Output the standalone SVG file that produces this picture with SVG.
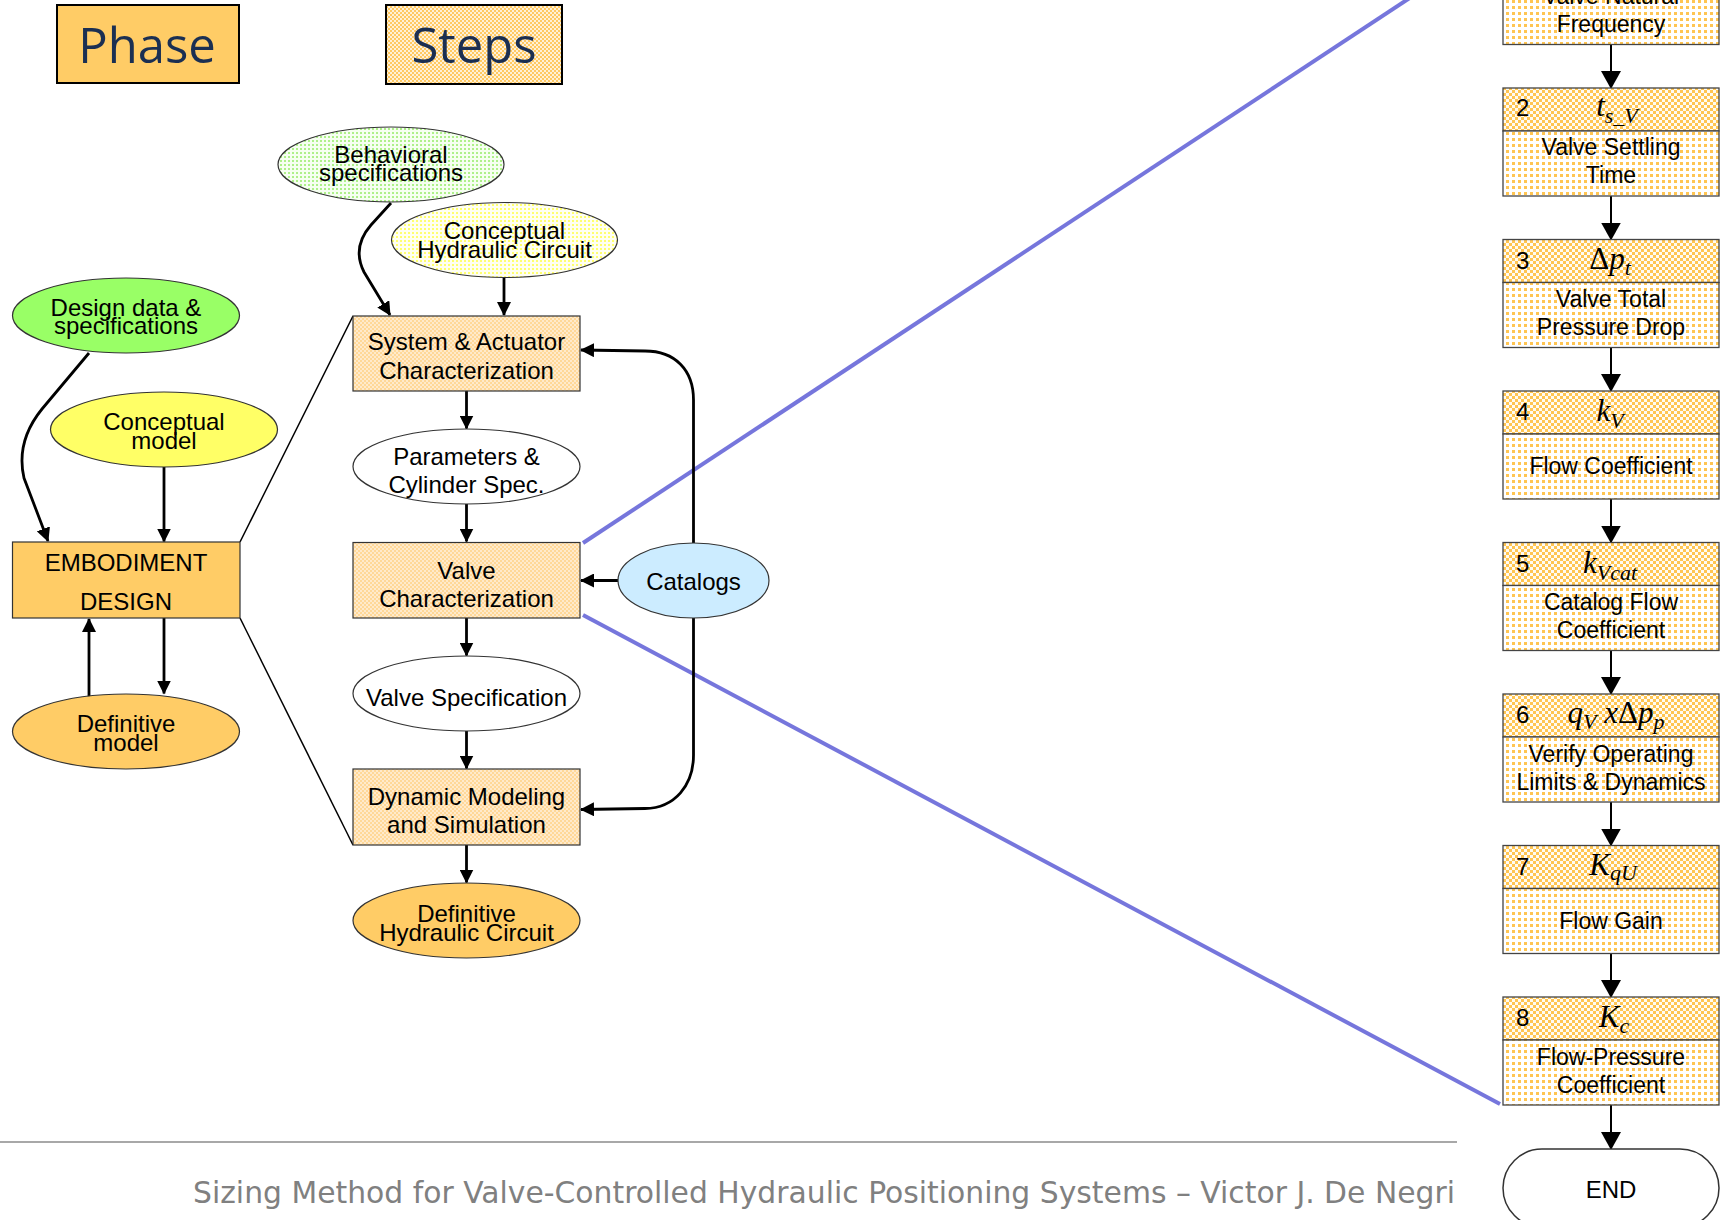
<svg xmlns="http://www.w3.org/2000/svg" width="1721" height="1220" viewBox="0 0 1721 1220">
  <defs>
    <!-- fine orange checker used by the "Steps" tag -->
    <pattern id="pSteps" width="4" height="4" patternUnits="userSpaceOnUse">
      <rect width="4" height="4" fill="#FFF1D6"/>
      <rect width="2" height="2" fill="#FFC962"/>
      <rect x="2" y="2" width="2" height="2" fill="#FFC962"/>
    </pattern>
    <!-- pale checker for the step boxes of the middle column -->
    <pattern id="pStep" width="4" height="4" patternUnits="userSpaceOnUse">
      <rect width="4" height="4" fill="#FFEACB"/>
      <rect width="2" height="2" fill="#FFD898"/>
      <rect x="2" y="2" width="2" height="2" fill="#FFD898"/>
    </pattern>
    <!-- header band of the numbered procedure boxes -->
    <pattern id="pHdr" width="6" height="6" patternUnits="userSpaceOnUse">
      <rect width="6" height="6" fill="#FFFBF2"/>
      <rect width="3" height="3" fill="#FFC552"/>
      <rect x="3" y="3" width="3" height="3" fill="#FFC552"/>
    </pattern>
    <!-- dotted body of the numbered procedure boxes -->
    <pattern id="pBody" width="6" height="6" patternUnits="userSpaceOnUse">
      <rect width="6" height="6" fill="#FFFFFF"/>
      <rect width="3" height="3" fill="#FFC552"/>
    </pattern>
    <pattern id="pGreen" width="4" height="4" patternUnits="userSpaceOnUse">
      <rect width="4" height="4" fill="#F6FFF1"/>
      <rect width="2" height="2" fill="#AEF08A"/>
    </pattern>
    <pattern id="pYellow" width="4" height="4" patternUnits="userSpaceOnUse">
      <rect width="4" height="4" fill="#FFFFF2"/>
      <rect width="2" height="2" fill="#FFFF70"/>
    </pattern>
    <marker id="arr" markerUnits="userSpaceOnUse" markerWidth="14" markerHeight="14" viewBox="0 0 14 14" refX="13" refY="7" orient="auto">
      <path d="M0,0 L14,7 L0,14 z" fill="#000"/>
    </marker>
    <marker id="arrBig" markerUnits="userSpaceOnUse" markerWidth="18" markerHeight="20" viewBox="0 0 18 20" refX="17" refY="10" orient="auto">
      <path d="M0,0 L18,10 L0,20 z" fill="#000"/>
    </marker>
  </defs>
  <style>
    .lbl { font-family: "Liberation Sans", Arial, sans-serif; font-size: 24px; fill: #000; text-anchor: middle; }
    .rl { font-family: "Liberation Sans", Arial, sans-serif; font-size: 23px; fill: #000; text-anchor: middle; }
    .num { font-family: "Liberation Sans", Arial, sans-serif; font-size: 24px; fill: #000; }
    .math { font-family: "Liberation Serif", "Times New Roman", serif; font-style: italic; font-size: 31px; fill: #000; text-anchor: middle; }
    .sub { font-size: 22px; }
    .up { font-style: normal; }
    .title { font-family: "Open Sans", "Noto Sans", sans-serif; font-size: 49px; fill: #1B2F52; text-anchor: middle; }
    .tag { stroke: #000; stroke-width: 2; }
    .shape { stroke: #333; stroke-width: 1.2; }
    .rbox { stroke: #444; stroke-width: 1.3; }
    .conn { fill: none; stroke: #000; stroke-width: 2.8; }
    .connR { fill: none; stroke: #000; stroke-width: 2; }
    .thin { fill: none; stroke: #000; stroke-width: 1.5; }
    .zoomline { fill: none; stroke: #7676DC; stroke-width: 4; }
  </style>

  <rect width="1721" height="1220" fill="#FFFFFF"/>

  <!-- column titles -->
  <g id="tag-phase">
    <rect class="tag" x="57" y="5" width="182" height="78" fill="#FFCC66"/>
    <text class="title" x="147" y="63">Phase</text>
  </g>
  <g id="tag-steps">
    <rect class="tag" x="386" y="5" width="176" height="79" fill="url(#pSteps)"/>
    <text class="title" x="474" y="63">Steps</text>
  </g>

  <!-- zoom-out lines from the valve step to the procedure column -->
  <g id="zoom-lines">
    <path class="zoomline" d="M583 543 L1503 -63.5"/>
    <path class="zoomline" d="M583 615 L1500 1104"/>
  </g>

  <!-- connectors -->
  <g id="connectors">
    <path class="thin" d="M240 542 L353 316"/>
    <path class="thin" d="M240 618 L353 845"/>

    <path class="conn" marker-end="url(#arr)" d="M89 353 L42 409 C25 430 18 452 24 478 L48 541"/>
    <path class="conn" marker-end="url(#arr)" d="M164 467 L164 541.5"/>
    <path class="conn" marker-end="url(#arr)" d="M164 618 L164 693.5"/>
    <path class="conn" marker-end="url(#arr)" d="M89 698 L89 619"/>

    <path class="conn" marker-end="url(#arr)" d="M391 203 L371 225 C357 241 356 256 364 272 L390 315"/>
    <path class="conn" marker-end="url(#arr)" d="M504 277.5 L504 315"/>
    <path class="conn" marker-end="url(#arr)" d="M466.5 391 L466.5 428.5"/>
    <path class="conn" marker-end="url(#arr)" d="M466.5 504 L466.5 541.5"/>
    <path class="conn" marker-end="url(#arr)" d="M466.5 618 L466.5 655.5"/>
    <path class="conn" marker-end="url(#arr)" d="M466.5 731 L466.5 768.5"/>
    <path class="conn" marker-end="url(#arr)" d="M466.5 845 L466.5 882.5"/>

    <path class="conn" marker-end="url(#arr)" d="M618 580.5 L581 580.5"/>
    <path class="conn" marker-end="url(#arr)" d="M693.5 543 L693.5 400 C693.5 370 675 351 645 351 L581 350"/>
    <path class="conn" marker-end="url(#arr)" d="M693.5 618 L693.5 755 C693.5 785 675 808 645 808.5 L581 809.5"/>

    <path class="connR" marker-end="url(#arrBig)" d="M1611 44.5 L1611 88"/>
    <path class="connR" marker-end="url(#arrBig)" d="M1611 196 L1611 239.5"/>
    <path class="connR" marker-end="url(#arrBig)" d="M1611 347.5 L1611 391"/>
    <path class="connR" marker-end="url(#arrBig)" d="M1611 499 L1611 542.5"/>
    <path class="connR" marker-end="url(#arrBig)" d="M1611 650.5 L1611 694"/>
    <path class="connR" marker-end="url(#arrBig)" d="M1611 802 L1611 845.5"/>
    <path class="connR" marker-end="url(#arrBig)" d="M1611 953.5 L1611 997"/>
    <path class="connR" marker-end="url(#arrBig)" d="M1611 1105 L1611 1149"/>
  </g>

  <!-- phase column -->
  <g id="design-data">
    <ellipse class="shape" cx="126" cy="315.5" rx="113.5" ry="37.5" fill="#99FF66"/>
    <text class="lbl" x="126" y="316">Design data &amp;</text>
    <text class="lbl" x="126" y="334">specifications</text>
  </g>
  <g id="conceptual-model">
    <ellipse class="shape" cx="164" cy="429.5" rx="113.5" ry="37.5" fill="#FFFF66"/>
    <text class="lbl" x="164" y="430">Conceptual</text>
    <text class="lbl" x="164" y="449">model</text>
  </g>
  <g id="embodiment-design">
    <rect class="shape" x="12.5" y="542" width="227.5" height="76" fill="#FFCC66"/>
    <text class="lbl" x="126" y="571">EMBODIMENT</text>
    <text class="lbl" x="126" y="610">DESIGN</text>
  </g>
  <g id="definitive-model">
    <ellipse class="shape" cx="126" cy="731.5" rx="113.5" ry="37.5" fill="#FFCC66"/>
    <text class="lbl" x="126" y="732">Definitive</text>
    <text class="lbl" x="126" y="751">model</text>
  </g>

  <!-- steps column -->
  <g id="behavioral-specs">
    <ellipse class="shape" cx="391" cy="164.5" rx="113" ry="37.5" fill="url(#pGreen)"/>
    <text class="lbl" x="391" y="163">Behavioral</text>
    <text class="lbl" x="391" y="181">specifications</text>
  </g>
  <g id="conceptual-circuit">
    <ellipse class="shape" cx="504.5" cy="240" rx="113" ry="37.5" fill="url(#pYellow)"/>
    <text class="lbl" x="504.5" y="239">Conceptual</text>
    <text class="lbl" x="504.5" y="258">Hydraulic Circuit</text>
  </g>
  <g id="system-actuator">
    <rect class="shape" x="353" y="316" width="227" height="75" fill="url(#pStep)"/>
    <text class="lbl" x="466.5" y="350">System &amp; Actuator</text>
    <text class="lbl" x="466.5" y="379">Characterization</text>
  </g>
  <g id="parameters">
    <ellipse class="shape" cx="466.5" cy="466.5" rx="113.5" ry="37.5" fill="#FFFFFF"/>
    <text class="lbl" x="466.5" y="465">Parameters &amp;</text>
    <text class="lbl" x="466.5" y="493">Cylinder Spec.</text>
  </g>
  <g id="valve-characterization">
    <rect class="shape" x="353" y="542.5" width="227" height="75.5" fill="url(#pStep)"/>
    <text class="lbl" x="466.5" y="579">Valve</text>
    <text class="lbl" x="466.5" y="607">Characterization</text>
  </g>
  <g id="catalogs">
    <ellipse class="shape" cx="693.5" cy="580.5" rx="75.5" ry="37.5" fill="#CCECFF"/>
    <text class="lbl" x="693.5" y="590">Catalogs</text>
  </g>
  <g id="valve-specification">
    <ellipse class="shape" cx="466.5" cy="693.5" rx="113.5" ry="37.5" fill="#FFFFFF"/>
    <text class="lbl" x="466.5" y="706" font-size="23">Valve Specification</text>
  </g>
  <g id="dynamic-modeling">
    <rect class="shape" x="353" y="769" width="227" height="76" fill="url(#pStep)"/>
    <text class="lbl" x="466.5" y="805">Dynamic Modeling</text>
    <text class="lbl" x="466.5" y="833">and Simulation</text>
  </g>
  <g id="definitive-circuit">
    <ellipse class="shape" cx="466.5" cy="920.5" rx="113.5" ry="37.5" fill="#FFCC66"/>
    <text class="lbl" x="466.5" y="922">Definitive</text>
    <text class="lbl" x="466.5" y="941">Hydraulic Circuit</text>
  </g>

  <!-- valve sizing procedure -->
  <g id="proc-1">
    <rect class="rbox" x="1503" y="-63.5" width="216" height="43" fill="url(#pHdr)"/>
    <rect class="rbox" x="1503" y="-20.5" width="216" height="65" fill="url(#pBody)"/>
    <text class="rl" x="1611" y="3.5">Valve Natural</text>
    <text class="rl" x="1611" y="31.5">Frequency</text>
  </g>
  <g id="proc-2">
    <rect class="rbox" x="1503" y="88" width="216" height="43" fill="url(#pHdr)"/>
    <rect class="rbox" x="1503" y="131" width="216" height="65" fill="url(#pBody)"/>
    <text class="num" x="1516" y="116">2</text>
    <text class="math" x="1617" y="116"><tspan>t</tspan><tspan class="sub" dy="7">s_V</tspan></text>
    <text class="rl" x="1611" y="155">Valve Settling</text>
    <text class="rl" x="1611" y="183">Time</text>
  </g>
  <g id="proc-3">
    <rect class="rbox" x="1503" y="239.5" width="216" height="43" fill="url(#pHdr)"/>
    <rect class="rbox" x="1503" y="282.5" width="216" height="65" fill="url(#pBody)"/>
    <text class="num" x="1516" y="268.5">3</text>
    <text class="math" x="1610" y="268.5"><tspan class="up">Δ</tspan><tspan>p</tspan><tspan class="sub" dy="6">t</tspan></text>
    <text class="rl" x="1611" y="307">Valve Total</text>
    <text class="rl" x="1611" y="335">Pressure Drop</text>
  </g>
  <g id="proc-4">
    <rect class="rbox" x="1503" y="391" width="216" height="43" fill="url(#pHdr)"/>
    <rect class="rbox" x="1503" y="434" width="216" height="65" fill="url(#pBody)"/>
    <text class="num" x="1516" y="420">4</text>
    <text class="math" x="1610" y="421"><tspan>k</tspan><tspan class="sub" dy="7">V</tspan></text>
    <text class="rl" x="1611" y="474">Flow Coefficient</text>
  </g>
  <g id="proc-5">
    <rect class="rbox" x="1503" y="542.5" width="216" height="43" fill="url(#pHdr)"/>
    <rect class="rbox" x="1503" y="585.5" width="216" height="65" fill="url(#pBody)"/>
    <text class="num" x="1516" y="571.5">5</text>
    <text class="math" x="1610" y="572.5"><tspan>k</tspan><tspan class="sub" dy="7">Vcat</tspan></text>
    <text class="rl" x="1611" y="610">Catalog Flow</text>
    <text class="rl" x="1611" y="638">Coefficient</text>
  </g>
  <g id="proc-6">
    <rect class="rbox" x="1503" y="694" width="216" height="43" fill="url(#pHdr)"/>
    <rect class="rbox" x="1503" y="737" width="216" height="65" fill="url(#pBody)"/>
    <text class="num" x="1516" y="723">6</text>
    <text class="math" x="1616" y="723"><tspan>q</tspan><tspan class="sub" dy="6">V</tspan><tspan dy="-6"> x</tspan><tspan class="up">Δ</tspan><tspan>p</tspan><tspan class="sub" dy="6">p</tspan></text>
    <text class="rl" x="1611" y="762">Verify Operating</text>
    <text class="rl" x="1611" y="790">Limits &amp; Dynamics</text>
  </g>
  <g id="proc-7">
    <rect class="rbox" x="1503" y="845.5" width="216" height="43" fill="url(#pHdr)"/>
    <rect class="rbox" x="1503" y="888.5" width="216" height="65" fill="url(#pBody)"/>
    <text class="num" x="1516" y="874.5">7</text>
    <text class="math" x="1613" y="875"><tspan>K</tspan><tspan class="sub" dy="5">qU</tspan></text>
    <text class="rl" x="1611" y="929">Flow Gain</text>
  </g>
  <g id="proc-8">
    <rect class="rbox" x="1503" y="997" width="216" height="43" fill="url(#pHdr)"/>
    <rect class="rbox" x="1503" y="1040" width="216" height="65" fill="url(#pBody)"/>
    <text class="num" x="1516" y="1026">8</text>
    <text class="math" x="1614" y="1027"><tspan>K</tspan><tspan class="sub" dy="6">c</tspan></text>
    <text class="rl" x="1611" y="1065">Flow-Pressure</text>
    <text class="rl" x="1611" y="1093">Coefficient</text>
  </g>
  <g id="proc-end">
    <rect x="1503" y="1149" width="216" height="78" rx="39" ry="39" fill="#FFFFFF" stroke="#333" stroke-width="1.5"/>
    <text class="lbl" x="1611" y="1198" font-size="28">END</text>
  </g>

  <!-- footer -->
  <g id="footer">
    <line x1="0" y1="1142" x2="1457" y2="1142" stroke="#A8A8A8" stroke-width="2"/>
    <text x="193" y="1203" font-family="'DejaVu Sans', Verdana, sans-serif" font-size="30" fill="#808080" textLength="1262" lengthAdjust="spacingAndGlyphs">Sizing Method for Valve-Controlled Hydraulic Positioning Systems – Victor J. De Negri</text>
  </g>
</svg>
